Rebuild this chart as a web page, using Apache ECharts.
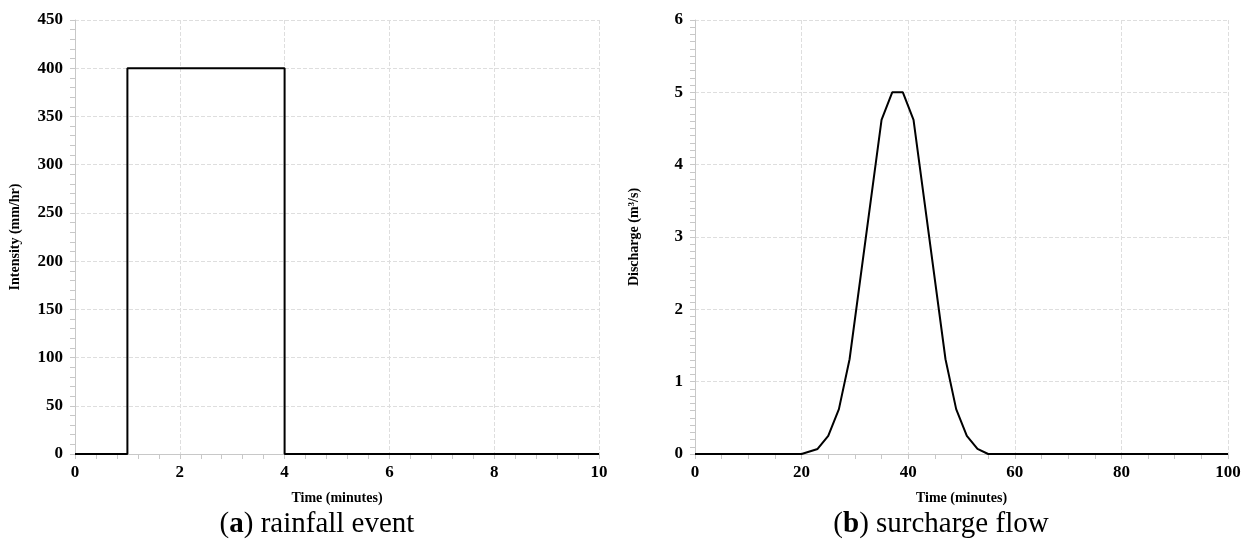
<!DOCTYPE html>
<html>
<head>
<meta charset="utf-8">
<script src="https://cdn.jsdelivr.net/npm/echarts@6/dist/echarts.min.js"></script>
<style>html,body{margin:0;padding:0;background:#fff;}#c{width:1249px;height:550px;}</style>
</head>
<body>
<div id="c"></div>
<script>
// Rainfall event (a)
const rainTime = [0, 1, 1, 4, 4, 10];
const rainIntensity = [0, 0, 400, 400, 0, 0];
// Surcharge flow (b)
const flowTime = [0, 20, 23, 25, 27, 29, 35, 37, 39, 41, 47, 49, 51, 53, 55, 100];
const flowDischarge = [0, 0, 0.07, 0.25, 0.62, 1.31, 4.62, 5, 5, 4.62, 1.31, 0.62, 0.25, 0.07, 0, 0];

const captionA = ['(', 'a', ') rainfall event'];
const captionB = ['(', 'b', ') surcharge flow'];

const serif = '"Liberation Serif", "Times New Roman", serif';
const gridGray = '#dedede';
const axisGray = '#c8c8c8';

function pairs(xs, ys) { return xs.map((x, i) => [x, ys[i]]); }

function xAxisCfg(idx, max, interval, split, name) {
  return {
    type: 'value', gridIndex: idx, min: 0, max: max, interval: interval,
    name: name, nameLocation: 'middle', nameGap: 37,
    nameTextStyle: { fontFamily: serif, fontWeight: 'bold', fontSize: 14, color: '#000' },
    axisLine: { show: true, lineStyle: { color: axisGray, width: 1 } },
    axisTick: { show: true, length: 5, lineStyle: { color: axisGray } },
    minorTick: { show: true, splitNumber: split, length: 5, lineStyle: { color: axisGray } },
    axisLabel: { fontFamily: serif, fontWeight: 'bold', fontSize: 17, color: '#000', margin: 10 },
    splitLine: { show: true, lineStyle: { color: gridGray, type: 'dashed', width: 1 } }
  };
}
function yAxisCfg(idx, max, interval, split, name) {
  return {
    type: 'value', gridIndex: idx, min: 0, max: max, interval: interval,
    name: name, nameLocation: 'middle', nameGap: 53,
    nameTextStyle: { fontFamily: serif, fontWeight: 'bold', fontSize: 14, color: '#000', rich: {
      sup: { fontFamily: serif, fontWeight: 'bold', fontSize: 9, color: '#000', verticalAlign: 'top', padding: [0,0,6,0] }
    } },
    axisLine: { show: true, lineStyle: { color: axisGray, width: 1 } },
    axisTick: { show: true, length: 5, lineStyle: { color: axisGray } },
    minorTick: { show: true, splitNumber: split, length: 5, lineStyle: { color: axisGray } },
    axisLabel: { fontFamily: serif, fontWeight: 'bold', fontSize: 17, color: '#000', margin: 12 },
    splitLine: { show: true, lineStyle: { color: gridGray, type: 'dashed', width: 1 } }
  };
}

const chart = echarts.init(document.getElementById('c'));
const capRich = {
  n: { fontFamily: serif, fontSize: 29, fontWeight: 'normal', color: '#000' },
  b: { fontFamily: serif, fontSize: 29, fontWeight: 'bold', color: '#000' }
};
const capStyle = { fontFamily: serif, fontSize: 29, fontWeight: 'normal', color: '#000', rich: capRich };
chart.setOption({
  animation: false,
  backgroundColor: '#fff',
  title: [
    { text: '{n|' + captionA[0] + '}{b|' + captionA[1] + '}{n|' + captionA[2] + '}', left: 312, top: 505, textAlign: 'center', textStyle: capStyle },
    { text: '{n|' + captionB[0] + '}{b|' + captionB[1] + '}{n|' + captionB[2] + '}', left: 936, top: 505, textAlign: 'center', textStyle: capStyle }
  ],
  grid: [
    { left: 75, right: 650, top: 20, bottom: 96, containLabel: false },
    { left: 695, right: 21, top: 20, bottom: 96, containLabel: false }
  ],
  xAxis: [
    xAxisCfg(0, 10, 2, 5, 'Time (minutes)'),
    xAxisCfg(1, 100, 20, 4, 'Time (minutes)')
  ],
  yAxis: [
    yAxisCfg(0, 450, 50, 5, 'Intensity (mm/hr)'),
    Object.assign(yAxisCfg(1, 6, 1, 10, ''), { name: 'Discharge (m{sup|3}/s)' })
  ],
  series: [
    { type: 'line', xAxisIndex: 0, yAxisIndex: 0, data: pairs(rainTime, rainIntensity), showSymbol: false,
      lineStyle: { color: '#000', width: 2 }, z: 5 },
    { type: 'line', xAxisIndex: 1, yAxisIndex: 1, data: pairs(flowTime, flowDischarge), showSymbol: false,
      lineStyle: { color: '#000', width: 2 }, z: 5 }
  ]
});
</script>
</body>
</html>
